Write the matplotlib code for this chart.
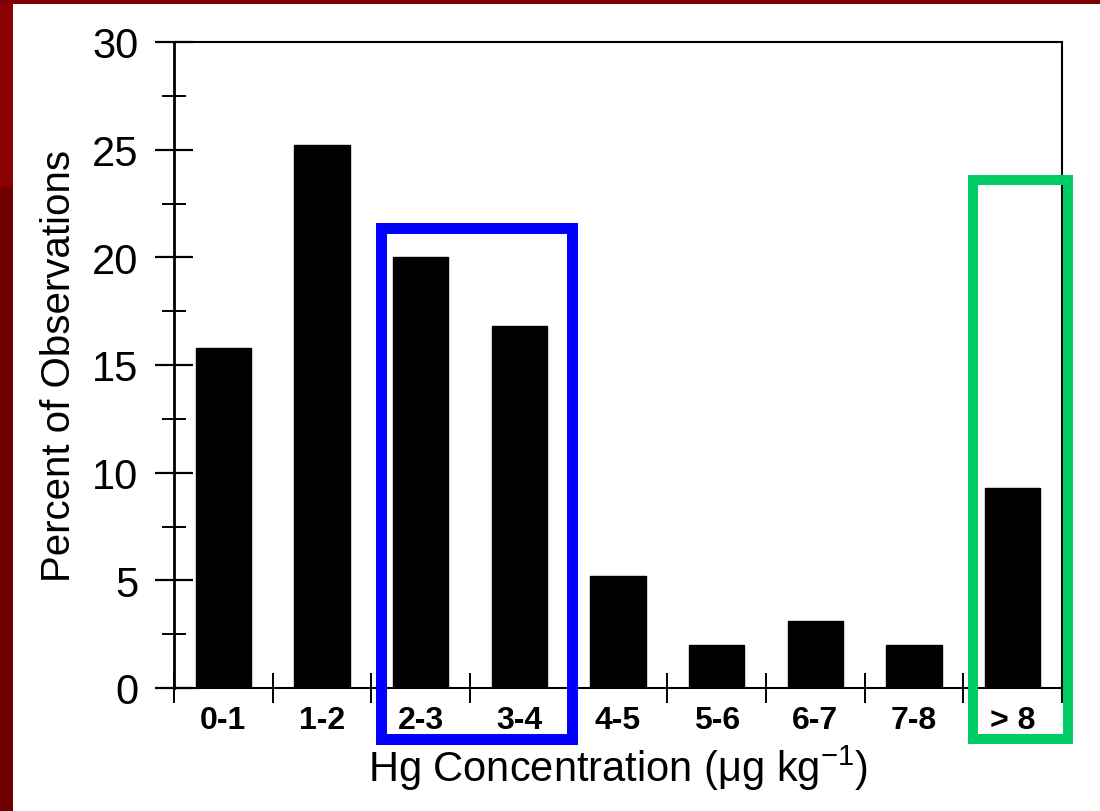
import matplotlib
matplotlib.use("Agg")
import matplotlib.pyplot as plt
from matplotlib.patches import Rectangle
from matplotlib.ticker import MultipleLocator, FixedLocator

categories = ["0-1", "1-2", "2-3", "3-4", "4-5", "5-6", "6-7", "7-8", "> 8"]
percent = [15.8, 25.2, 20.0, 16.8, 5.2, 2.0, 3.1, 2.0, 9.3]
y_ticks = [0, 5, 10, 15, 20, 25, 30]

plt.rcParams['font.family'] = ['Liberation Sans', 'DejaVu Sans']
plt.rcParams['mathtext.fontset'] = 'custom'
plt.rcParams['mathtext.rm'] = 'Liberation Sans'
plt.rcParams['mathtext.it'] = 'Liberation Sans:italic'
plt.rcParams['mathtext.bf'] = 'Liberation Sans:bold'

W, H = 1100, 812
fig = plt.figure(figsize=(W / 100, H / 100), dpi=100)
fig.patch.set_facecolor('white')

# slide background border
fig.patches.append(Rectangle((0, 0), 13 / W, 1, transform=fig.transFigure,
                             facecolor='#6e0000', edgecolor='none', zorder=0))
fig.patches.append(Rectangle((0, 1 - 188 / H), 13 / W, 188 / H, transform=fig.transFigure,
                             facecolor='#8b0000', edgecolor='none', zorder=0))
fig.patches.append(Rectangle((0, 1 - 5 / H), 1, 5 / H, transform=fig.transFigure,
                             facecolor='#7d0000', edgecolor='none', zorder=0))

ax = fig.add_axes([174 / W, 1 - 689 / H, 888 / W, 646 / H])
x = list(range(len(categories)))
ax.bar(x, percent, width=0.56, color='black', edgecolor='black', zorder=2)

ax.set_xlim(-0.5, len(categories) - 0.5)
ax.set_ylim(0, 30)

ax.set_yticks(y_ticks)
ax.yaxis.set_minor_locator(MultipleLocator(2.5))
ax.set_xticks(x)
ax.set_xticklabels(categories, fontweight='bold', fontsize=23)
ax.xaxis.set_minor_locator(FixedLocator([i - 0.5 for i in range(len(categories) + 1)]))

ax.tick_params(axis='y', which='major', direction='inout', length=27, width=1.6,
               labelsize=30, pad=12)
ax.tick_params(axis='y', which='minor', direction='inout', length=17, width=1.4)
ax.tick_params(axis='x', which='major', length=0, pad=12)
ax.tick_params(axis='x', which='minor', direction='inout', length=22, width=1.4)

for s in ['left']:
    ax.spines[s].set_linewidth(2.0)
for s in ['bottom', 'top', 'right']:
    ax.spines[s].set_linewidth(1.5)

ax.set_ylabel('Percent of Observations', fontsize=29, labelpad=10)
ax.set_xlabel(r'Hg Concentration (μg kg$^{-1}$)', fontsize=30, labelpad=6)

# highlight boxes
fig.patches.append(Rectangle((380.5 / W, 1 - 739.5 / H), 191 / W, 511 / H,
                             transform=fig.transFigure, fill=False,
                             edgecolor='#0000ff', linewidth=7.9, zorder=5))
fig.patches.append(Rectangle((973 / W, 1 - 740 / H), 95 / W, 559 / H,
                             transform=fig.transFigure, fill=False,
                             edgecolor='#00cc66', linewidth=7.2, zorder=5))

fig.savefig('out.png', dpi=100)
